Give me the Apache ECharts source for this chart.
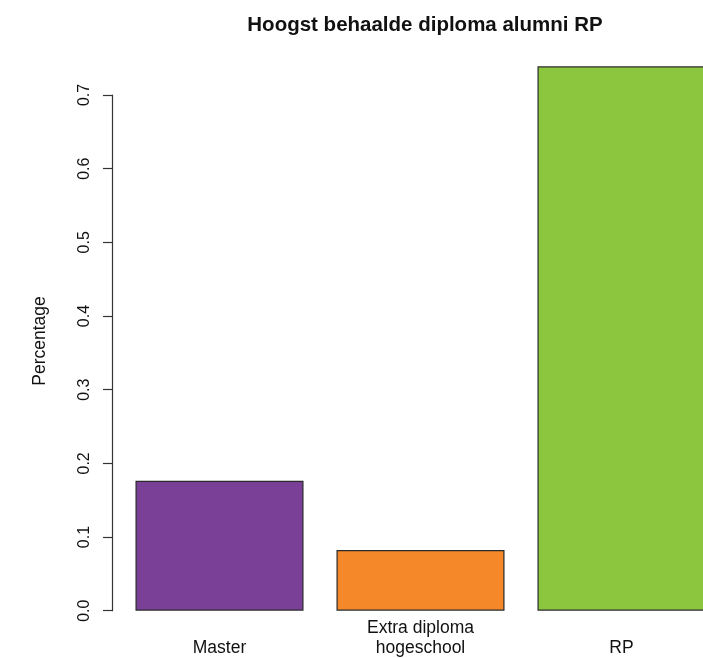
<!DOCTYPE html>
<html>
<head>
<meta charset="utf-8">
<script src="https://cdn.jsdelivr.net/npm/echarts@6/dist/echarts.min.js"></script>
<style>html,body{margin:0;padding:0;background:#fff}#c{width:703px;height:658px}</style>
</head>
<body>
<div id="c"></div>
<script>
const categories = ['Master', 'Extra diploma\nhogeschool', 'RP'];
const values = [0.1765, 0.0824, 0.739];
const colors = ['#7A3F96', '#F5892A', '#8CC63F'];
const yTicks = [0, 0.1, 0.2, 0.3, 0.4, 0.5, 0.6, 0.7];
const titleText = 'Hoogst behaalde diploma alumni RP';
const yName = 'Percentage';

const FONT = '"Liberation Sans", Arial, Helvetica, sans-serif';
const chart = echarts.init(document.getElementById('c'), null, {renderer: 'canvas'});
chart.setOption({
  animation: false,
  backgroundColor: '#ffffff',
  textStyle: {fontFamily: FONT},
  title: {
    text: titleText, left: 420, top: 10, textAlign: 'center',
    textStyle: {fontFamily: FONT, fontSize: 20.5, fontWeight: 'bold', color: '#111'}
  },
  graphic: [{
    type: 'text', x: 40, y: 341, rotation: Math.PI / 2,
    style: {text: yName, fontFamily: FONT, fontSize: 17.5, fill: '#111', align: 'center', verticalAlign: 'middle'}
  }],
  grid: [
    {left: 119, width: 603, top: 58.2, bottom: 47.3, outerBoundsMode: 'none', containLabel: false},
    {left: 112, width: 10, top: 95, height: 515.7, outerBoundsMode: 'none', containLabel: false}
  ],
  xAxis: [
    {
      gridIndex: 0, type: 'category', data: categories,
      axisLine: {show: false}, axisTick: {show: false},
      axisLabel: {
        fontFamily: FONT, fontSize: 17.5, color: '#111', margin: 7, lineHeight: 20, interval: 0,
        formatter: v => (v.indexOf('\n') >= 0 ? v : '\n' + v)
      }
    },
    {gridIndex: 1, type: 'value', show: false, min: 0, max: 1}
  ],
  yAxis: [
    {gridIndex: 0, type: 'value', min: 0, max: 0.75, show: false, splitLine: {show: false}},
    {
      gridIndex: 1, type: 'value', min: 0, max: 0.7, interval: 0.1,
      axisLine: {show: true, lineStyle: {color: '#333', width: 1.2}},
      axisTick: {show: true, length: 9, lineStyle: {color: '#333', width: 1.2}},
      splitLine: {show: false},
      axisLabel: {
        rotate: 90, fontFamily: FONT, fontSize: 16, color: '#111', margin: 19,
        formatter: v => v.toFixed(1)
      }
    }
  ],
  series: [
    {
      type: 'bar', xAxisIndex: 0, yAxisIndex: 0,
      barCategoryGap: '16.4%',
      data: values.map((v, i) => ({value: v, itemStyle: {color: colors[i]}})),
      itemStyle: {borderColor: '#2a2a2a', borderWidth: 1.2}
    },
    {type: 'scatter', xAxisIndex: 1, yAxisIndex: 1, data: [], silent: true}
  ]
});
</script>
</body>
</html>
